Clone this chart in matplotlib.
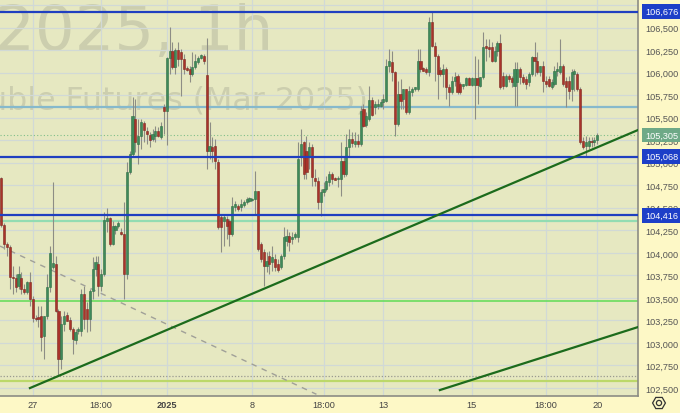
import numpy as np
import matplotlib.pyplot as plt
from matplotlib.patches import RegularPolygon, Circle
import matplotlib.transforms as mtransforms

plt.rcParams['font.family'] = ['Liberation Sans', 'DejaVu Sans']

# Hourly OHLC (SiH2025, 1h)
opens = [
    104830, 104308, 104098, 104064, 103731, 103720, 103631, 103720, 103598, 103565,
    103676, 103487, 103276, 103287, 103298, 103076, 103298, 103620, 103842, 103876,
    103354, 102821, 103210, 103309, 103254, 103154, 103032, 103132, 103132, 103543,
    103376, 103265, 103576, 103820, 103876, 103631, 103765, 104353, 104386, 104098,
    104253, 104297, 104231, 104209, 103765, 104897, 105097, 105485, 105208, 105296,
    105441, 105352, 105307, 105263, 105296, 105352, 105285, 105618, 105574, 106162,
    106240, 106062, 106251, 106229, 106151, 106051, 106040, 105985, 106062, 106118,
    106162, 106184, 105973, 105130, 105174, 105185, 105008, 104397, 104353, 104375,
    104353, 104209, 104508, 104519, 104508, 104530, 104564, 104575, 104586, 104597,
    104686, 104098, 104009, 103853, 103964, 103898, 103931, 103876, 103842, 103964,
    104131, 104186, 104153, 104175, 104175, 105074, 105230, 105130, 105074, 105174,
    104830, 104797, 104564, 104675, 104708, 104786, 104875, 104830, 104819, 104819,
    105019, 104875, 105174, 105263, 105208, 105241, 105208, 105596, 105418, 105485,
    105696, 105618, 105629, 105629, 105674, 105685, 106073, 106118, 106007, 105430,
    105763, 105707, 105818, 105563, 105785, 105818, 105818, 106129, 106051, 106040,
    106007, 106562, 106295, 106184, 106029, 105985, 106040, 105840, 105785, 105907,
    105962, 105874, 105851, 105862, 105940, 105862, 105862, 105940, 105851, 105951,
    106295, 106284, 106284, 106129, 106240, 106329, 105962, 105851, 105962, 105940,
    105851, 105896, 106040, 105951, 105929, 105896, 105985, 106173, 106129, 106007,
    106073, 105907, 105929, 105840, 105874, 106018, 106007, 106073, 105907, 105907,
    105818, 105985, 105985, 105818, 105241, 105185, 105185, 105241, 105230, 105252,
]
highs = [
    104841, 104331, 104120, 104086, 103853, 103765, 103853, 103787, 103654, 103687,
    103787, 103520, 103309, 103409, 103409, 103298, 103765, 104075, 104786, 103964,
    103376, 103298, 103354, 103343, 103287, 103176, 103154, 103176, 103598, 103631,
    103454, 103598, 103953, 103964, 103964, 103820, 104453, 104497, 104397, 104353,
    104308, 104353, 104275, 104564, 105008, 105130, 105729, 105707, 105485, 105485,
    105463, 105396, 105341, 105374, 105407, 105396, 105452, 105652, 106173, 106506,
    106340, 106273, 106340, 106262, 106207, 106073, 106073, 106229, 106207, 106184,
    106207, 106207, 106384, 105452, 105285, 105263, 105041, 104431, 104431, 104408,
    104375, 104619, 104575, 104542, 104597, 104586, 104619, 104619, 104608, 104908,
    104686, 104120, 104042, 104009, 104020, 104075, 103987, 103931, 103987, 104286,
    104264, 104231, 104231, 104231, 105230, 105374, 105241, 105296, 105230, 105208,
    104930, 104841, 104708, 104786, 104852, 104908, 104897, 104841, 104852, 105230,
    105063, 105319, 105374, 105341, 105341, 105319, 105629, 105652, 105563, 105851,
    105729, 105685, 105707, 105707, 105763, 106151, 106262, 106240, 106018, 105907,
    105929, 105818, 105818, 105851, 105840, 105840, 106262, 106262, 106062, 106062,
    106617, 106673, 106340, 106207, 106062, 106096, 106062, 105874, 105962, 106007,
    105985, 105896, 105874, 105951, 105951, 105951, 106184, 106151, 105951, 106451,
    106373, 106373, 106340, 106295, 106351, 106429, 106007, 105985, 105985, 105962,
    106118, 106118, 106062, 105985, 105962, 106007, 106184, 106340, 106229, 106073,
    106129, 105962, 105962, 105929, 106073, 106118, 106373, 106096, 105951, 105962,
    106040, 106040, 106007, 105840, 105285, 105296, 105285, 105285, 105285, 105330,
]
lows = [
    104286, 104042, 103964, 103598, 103543, 103565, 103598, 103543, 103543, 103543,
    103409, 103232, 103243, 103176, 102910, 102821, 103265, 103565, 103820, 103343,
    102632, 102710, 103132, 103243, 103132, 102877, 102988, 103099, 103076, 103154,
    103121, 103132, 103487, 103742, 103520, 103576, 103742, 104231, 104075, 104086,
    104209, 104275, 104197, 103487, 103709, 104875, 105074, 105119, 104986, 105152,
    105230, 105208, 105174, 105241, 105230, 105285, 105263, 105319, 105196, 105985,
    106040, 105985, 106073, 105740, 105985, 106018, 105896, 105962, 106040, 106096,
    106151, 106096, 104930, 105041, 105008, 104930, 104264, 104009, 104075, 104153,
    104075, 104186, 104464, 104464, 104464, 104508, 104542, 104564, 104575, 104431,
    104020, 103898, 103631, 103787, 103765, 103798, 103798, 103787, 103820, 103931,
    104075, 104020, 104098, 104153, 104120, 104963, 104819, 104819, 104930, 104741,
    104741, 104486, 104408, 104630, 104686, 104741, 104764, 104808, 104730, 104630,
    104841, 104852, 105074, 105174, 105174, 105174, 105185, 105396, 105396, 105463,
    105518, 105541, 105596, 105618, 105596, 105674, 106007, 105907, 105296, 105407,
    105596, 105596, 105541, 105541, 105740, 105796, 105796, 106007, 106018, 105985,
    105962, 106284, 105907, 105707, 105962, 105840, 105707, 105629, 105763, 105851,
    105763, 105763, 105818, 105851, 105862, 105851, 105485, 105652, 105840, 105929,
    106129, 106173, 106118, 106118, 106184, 105818, 105818, 105840, 105896, 105840,
    105629, 105629, 105874, 105874, 105818, 105851, 105962, 105962, 105985, 105962,
    105785, 105840, 105840, 105818, 105851, 105962, 105985, 105851, 105618, 105707,
    105685, 105796, 105796, 105208, 105152, 105063, 105152, 105174, 105185, 105208,
]
closes = [
    104308, 104098, 104064, 103731, 103720, 103620, 103765, 103598, 103565, 103676,
    103487, 103276, 103265, 103265, 103065, 103298, 103620, 103998, 103887, 103354,
    102821, 103210, 103298, 103243, 103154, 103043, 103121, 103154, 103543, 103265,
    103265, 103576, 103820, 103898, 103631, 103765, 104364, 104386, 104098, 104297,
    104297, 104331, 104209, 103765, 104897, 105097, 105518, 105230, 105296, 105452,
    105363, 105319, 105252, 105319, 105352, 105296, 105407, 105574, 106162, 106240,
    106062, 106251, 106151, 106151, 106040, 106029, 105985, 106062, 106129, 106162,
    106195, 106129, 105130, 105185, 105130, 105019, 104286, 104286, 104397, 104297,
    104209, 104519, 104542, 104486, 104542, 104564, 104597, 104608, 104597, 104686,
    104042, 103931, 103853, 103909, 103876, 103953, 103842, 103809, 103964, 104175,
    104186, 104120, 104175, 104209, 105041, 105208, 104875, 104897, 105174, 104841,
    104797, 104564, 104675, 104708, 104797, 104875, 104819, 104808, 104830, 105019,
    104875, 105174, 105263, 105219, 105241, 105208, 105574, 105407, 105518, 105696,
    105529, 105652, 105652, 105674, 105707, 106073, 106129, 106007, 105430, 105763,
    105685, 105818, 105563, 105796, 105818, 105840, 106129, 106040, 106018, 106007,
    106562, 106295, 106184, 105985, 105985, 106040, 105840, 105785, 105907, 105951,
    105785, 105785, 105874, 105940, 105862, 105940, 105940, 105862, 105951, 106284,
    106273, 106262, 106129, 106240, 106329, 105840, 105851, 105962, 105929, 105896,
    106040, 106040, 105951, 105896, 105874, 105985, 106173, 106129, 106007, 106073,
    105907, 105874, 105851, 105896, 106018, 106040, 106073, 105874, 105840, 105796,
    106007, 106018, 105818, 105230, 105174, 105230, 105241, 105230, 105252, 105305,
]

# time axis labels (bar index -> label)
tick_pos = [11, 35, 58, 88, 113, 134, 165, 191, 209]
tick_labels = ['27', '18:00', '2025', '8', '18:00', '13', '15', '18:00', '20']
price_ticks = list(range(102500, 106751, 250))

# horizontal levels
blue_levels = [106676, 105068, 104416]
level_lightblue = 105618
level_mint = 104353
level_green = 103465
level_lime = 102577
level_dotted = 102632
last_price = 105305

# trend lines: (bar index, price)
trend_up_x, trend_up_y = [10.0, 223.3], [102499, 105363]
trend_low_x, trend_low_y = [153.8, 223.3], [102477, 103176]
trend_dash_x, trend_dash_y = [-0.5, 110.5], [104075, 102430]

o = np.array(opens); h = np.array(highs); l = np.array(lows); c = np.array(closes)
x = np.arange(len(o))

fig = plt.figure(figsize=(6.8, 4.14), dpi=100)
fig.patch.set_facecolor('#fdf8c6')
ax = fig.add_axes([0, 17 / 414, 638 / 680, 397 / 414])
ax.set_facecolor('#e6e8c1')
ax.set_xlim(-0.5, 223.3)
ax.set_ylim(102411, 106817)

# watermark (clipped by the pane, like the original)
ax.text(273 / 638, 1 - 50 / 397, 'SiH2025, 1h', transform=ax.transAxes,
        ha='right', va='baseline', fontsize=45, color='#ccceae',
        family='DejaVu Sans', clip_on=True, zorder=0.2)
ax.text(368 / 638, 1 - 110 / 397, 'US Dollar - Russian Ruble Futures (Mar 2025)',
        transform=ax.transAxes, ha='right', va='baseline', fontsize=22.8,
        color='#ccceae', family='DejaVu Sans', clip_on=True, zorder=0.2)

# grid
ax.set_yticks(price_ticks)
ax.set_yticklabels([f'{v:,}' for v in price_ticks])
ax.set_xticks(tick_pos)
ax.set_xticklabels(tick_labels)
ax.grid(True, color='#d1d9d6', lw=0.9)
ax.set_axisbelow(True)

# levels
ax.axhline(level_lightblue, color='#86b9cc', lw=1.6, zorder=2)
ax.axhline(level_mint, color='#92dcb2', lw=1.6, zorder=2)
ax.axhline(level_green, color='#5fdc55', lw=1.1, zorder=2)
ax.axhline(level_lime, color='#bcd86a', lw=1.6, zorder=2)
ax.axhline(level_dotted, color='#9a9a90', lw=0.9, ls=(0, (1, 1.5)), zorder=2)
ax.axhline(last_price, color='#7fbf8a', lw=0.8, ls=(0, (1, 2)), zorder=2)
for lv in blue_levels:
    ax.axhline(lv, color='#1f3fc0', lw=1.6, zorder=5)

# candles
up = c >= o
ax.vlines(x, l, h, color='#8d8d85', lw=0.8, zorder=3)
body_bot = np.minimum(o, c)
body_h = np.maximum(np.abs(c - o), 10)
ax.bar(x, body_h, bottom=body_bot, width=0.75,
       color=np.where(up, '#3f8a5a', '#a9332b'),
       edgecolor=np.where(up, '#2e6e45', '#7e2820'), linewidth=0.4, zorder=4)

# trend lines
ax.plot(trend_dash_x, trend_dash_y, color='#a0a098', lw=1.0, ls=(0, (4, 4)), zorder=3)
ax.plot(trend_up_x, trend_up_y, color='#1c6b1c', lw=1.6, zorder=6)
ax.plot(trend_low_x, trend_low_y, color='#1c6b1c', lw=1.6, zorder=6)

# axes styling
for s in ['top', 'left']:
    ax.spines[s].set_visible(False)
for s in ['right', 'bottom']:
    ax.spines[s].set_color('#8c8c84')
    ax.spines[s].set_linewidth(1.2)
ax.yaxis.tick_right()
ax.tick_params(axis='y', length=0, pad=5, labelsize=6.6, labelcolor='#555555')
ax.tick_params(axis='x', length=0, pad=3, labelsize=6.6, labelcolor='#444444')
for lab in ax.get_xticklabels():
    if lab.get_text() == '2025':
        lab.set_fontweight('bold')

# price tags on the right scale
trans = mtransforms.blended_transform_factory(ax.transAxes, ax.transData)
for lv in blue_levels:
    ax.text(1.011, lv, f'{lv:,}', transform=trans, ha='left', va='center',
            fontsize=6.6, color='white', clip_on=False, zorder=10,
            bbox=dict(boxstyle='square,pad=0.3', fc='#1d3fc8', ec='none'))
ax.text(1.011, last_price, f'{last_price:,}', transform=trans, ha='left', va='center',
        fontsize=6.6, color='white', clip_on=False, zorder=10,
        bbox=dict(boxstyle='square,pad=0.3', fc='#6ea987', ec='none'))

# settings icon
icon = fig.add_axes([659 / 680 - 0.02, 1 - 404 / 414 - 0.025, 0.04, 0.05])
icon.set_xlim(-1, 1); icon.set_ylim(-1, 1)
icon.set_aspect('equal'); icon.axis('off')
icon.add_patch(RegularPolygon((0, 0), 6, radius=0.62, orientation=np.pi / 6,
                              fill=False, ec='#333333', lw=0.9))
icon.add_patch(Circle((0, 0), 0.25, fill=False, ec='#333333', lw=0.9))

fig.savefig('out.png', dpi=100, facecolor=fig.get_facecolor())
